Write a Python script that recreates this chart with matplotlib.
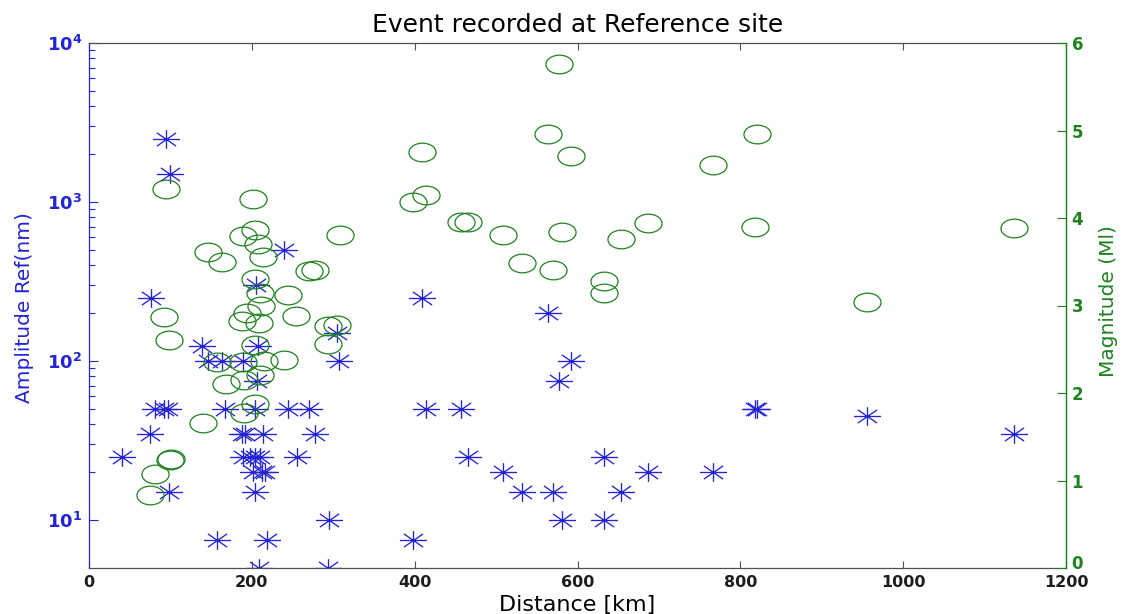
import numpy as np
import matplotlib
matplotlib.use("Agg")
import matplotlib.pyplot as plt
from matplotlib.path import Path
from matplotlib.ticker import FixedLocator, FuncFormatter, NullFormatter
from matplotlib.transforms import ScaledTranslation

# Peak amplitude at the reference site against epicentral distance
amp_distance_km = [
    41, 75, 76, 81, 92, 94, 97, 98.6, 99.5, 139, 146.5, 157, 163, 167.5,
    188, 191.5, 189.5, 189.5, 197.5, 204, 210, 202, 212, 216, 204, 205,
    204.5, 207, 206, 209, 214, 218.5, 239, 244, 255, 270, 278, 293, 295,
    304, 307.5,
    398.5, 409.5, 413.5, 457.5, 465, 509, 531.5, 564, 570.5, 577, 580.5,
    591.5, 632, 632.5, 654, 687, 767, 818, 820, 956, 1136,
]
amplitude_nm = [
    25, 35, 250, 50, 50, 2500, 50, 15, 1500, 125, 100, 7.5, 100, 50,
    35, 35, 100, 25, 25, 25, 25, 20, 20, 20, 50, 300,
    15, 125, 75, 5, 35, 7.5, 500, 50, 25, 50, 35, 5, 10,
    150, 100,
    7.5, 250, 50, 50, 25, 20, 15, 200, 15, 75, 10,
    100, 10, 25, 15, 20, 20, 50, 50, 45, 35,
]

# Local magnitude of the same events
mag_distance_km = [
    75, 81, 99, 100.5, 92.5, 98.6, 94.2, 140.5, 146.5, 157, 163, 168.3,
    187.5, 189.5, 189.5, 190, 190.8, 193.7, 201.8, 204, 204, 204, 204,
    208, 210, 211.5, 209, 210, 214, 215, 239, 245, 254, 270.5, 277.6,
    293, 294, 304, 308.3,
    398.5, 409.5, 413.5, 457.5, 465, 509, 531.5, 564, 570.5, 577, 580.5,
    591.5, 632.5, 632, 654, 687, 767, 818, 820, 956, 1136,
]
magnitude_ml = [
    0.83, 1.07, 1.23, 1.25, 2.87, 2.61, 4.33, 1.66, 3.61, 2.36, 3.50, 2.10,
    2.82, 3.79, 2.36, 1.77, 2.15, 2.92, 4.22, 3.86, 3.30, 2.55, 1.88,
    3.70, 3.14, 3.00, 2.80, 2.21, 3.55, 2.37, 2.38, 3.12, 2.88, 3.40, 3.41,
    2.56, 2.77, 2.78, 3.81,
    4.18, 4.75, 4.26, 3.95, 3.95, 3.81, 3.49, 4.96, 3.41, 5.76, 3.84,
    4.71, 3.28, 3.14, 3.76, 3.94, 4.61, 3.90, 4.96, 3.04, 3.89,
]

distance_ticks = [0, 200, 400, 600, 800, 1000, 1200]
amplitude_ticks = [10, 100, 1000, 10000]
magnitude_ticks = [0, 1, 2, 3, 4, 5, 6]

BLUE = "#2424d4"
GREEN = "#1e821e"
GREY = "#505050"

# Markers are drawn wider than tall: an eight-armed asterisk and an ellipse
w, h = 1.45, 1.0
d = np.sqrt(0.5)
star_path = Path(
    [(-w, 0), (w, 0), (0, -h), (0, h),
     (-w * d, -h * d), (w * d, h * d), (-w * d, h * d), (w * d, -h * d)],
    [Path.MOVETO, Path.LINETO] * 4,
)
unit = Path.unit_circle()
ellipse_path = Path(unit.vertices * np.array([w, h]), unit.codes)

fig = plt.figure(figsize=(11.25, 6.14), dpi=100)
ax = fig.add_axes([89 / 1125, 46 / 614, 977 / 1125, 525 / 614])

ax.plot(amp_distance_km, amplitude_nm, linestyle="none", marker=star_path,
        markersize=19.5, markeredgecolor=BLUE, markerfacecolor="none",
        markeredgewidth=0.95)
ax.set_yscale("log")
ax.set_xlim(0, 1200)
ax.set_ylim(5, 1e4)

ax.set_xticks(distance_ticks)
ax.tick_params(axis="x", direction="in", top=True, length=5, width=0.8,
               color=GREY, labelcolor="#1e1e1e", labelsize=11.5, pad=5)
for lbl in ax.get_xticklabels():
    lbl.set_fontweight("bold")

ax.yaxis.set_major_locator(FixedLocator(amplitude_ticks))
ax.yaxis.set_minor_locator(FixedLocator(
    [k * 10 ** e for e in (1, 2, 3) for k in range(2, 10)]))
ax.yaxis.set_major_formatter(FuncFormatter(
    lambda v, p: r"$\mathbf{10^{%d}}$" % round(np.log10(v))))
ax.yaxis.set_minor_formatter(NullFormatter())
ax.tick_params(axis="y", which="both", direction="in", left=True, right=True,
               color=BLUE, labelcolor=BLUE, width=0.8)
ax.tick_params(axis="y", which="major", length=6.7, labelsize=13, pad=5)
ax.tick_params(axis="y", which="minor", length=4.3)

ax.spines["left"].set_color(BLUE)
ax.spines["top"].set_color(GREY)
ax.spines["bottom"].set_color(GREY)
ax.spines["right"].set_color(GREEN)
for s in ax.spines.values():
    s.set_linewidth(0.9)

ax2 = ax.twinx()
ax2.plot(mag_distance_km, magnitude_ml, linestyle="none", marker=ellipse_path,
         markersize=19.5, markeredgecolor=GREEN, markerfacecolor="none",
         markeredgewidth=0.9)
ax2.set_ylim(0, 6)
ax2.set_yticks(magnitude_ticks)
ax2.tick_params(axis="y", direction="in", length=6.7, width=0.8, color=GREEN,
                labelcolor=GREEN, labelsize=12, pad=4)
for lbl in ax2.get_yticklabels():
    lbl.set_fontweight("bold")
ax2.spines["right"].set_color(GREEN)
ax2.spines["right"].set_linewidth(0.9)
for side in ("left", "top", "bottom"):
    ax2.spines[side].set_visible(False)

ax.set_title("Event recorded at Reference site", fontsize=18, pad=8)
ax.set_xlabel("Distance [km]", fontsize=16)
ax.xaxis.set_label_coords(0.5, -0.082)
ax.xaxis.label.set_verticalalignment("baseline")

ax.set_ylabel("Amplitude Ref(nm)", fontsize=14.5, color=BLUE)
ax.yaxis.set_label_coords(-0.0665, 0.497)
ax.yaxis.label.set_verticalalignment("center")

ax2.set_ylabel("Magnitude (Ml)", fontsize=14.5, color=GREEN)
ax2.yaxis.set_label_coords(1.043, 0.509)
ax2.yaxis.label.set_verticalalignment("center")

# lift the lowest magnitude label a little so it clears the "1200" label
fig.canvas.draw()
zero_label = ax2.yaxis.get_major_ticks()[0].label2
zero_label.set_transform(zero_label.get_transform()
                         + ScaledTranslation(0, 4 / 72, fig.dpi_scale_trans))

fig.savefig("out.png", dpi=100)
